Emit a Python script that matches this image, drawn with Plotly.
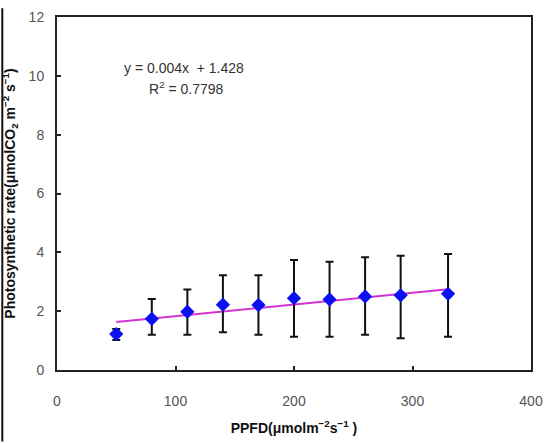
import plotly.graph_objects as go

# PPFD levels and mean photosynthetic rate with error bars
ppfd = [50, 80, 110, 140, 170, 200, 230, 260, 290, 330]
rate = [1.22, 1.74, 1.98, 2.22, 2.21, 2.44, 2.40, 2.50, 2.54, 2.59]
err_plus = [0.17, 0.67, 0.76, 1.00, 1.01, 1.30, 1.28, 1.33, 1.34, 1.35]
err_minus = [0.20, 0.54, 0.78, 0.94, 1.01, 1.31, 1.27, 1.30, 1.46, 1.46]

# Linear trend
slope = 0.004
intercept = 1.428
r_squared = 0.7798

x_ticks = [0, 100, 200, 300, 400]
y_ticks = [0, 2, 4, 6, 8, 10, 12]

W, H = 552, 443
ml, mr, mt, mb = 57, 14, 9, 73
pw = W - ml - mr
ph = H - mt - mb


def px_x(p):
    return (p - ml) / pw


def px_y(p):
    return 1 - (p - mt) / ph


trend_x = [ppfd[0], ppfd[-1]]
trend_y = [slope * v + intercept for v in trend_x]

fig = go.Figure()
fig.add_trace(go.Scatter(
    x=trend_x, y=trend_y, mode="lines",
    line=dict(color="#d433d4", width=2), hoverinfo="skip", showlegend=False,
))
fig.add_trace(go.Scatter(
    x=ppfd, y=rate, mode="markers",
    marker=dict(symbol="diamond", size=11, color="#0a10f0"),
    error_y=dict(type="data", symmetric=False, array=err_plus, arrayminus=err_minus,
                 color="#111111", thickness=2, width=4),
    showlegend=False,
))

font_family = "Arial, Liberation Sans, sans-serif"

fig.add_annotation(
    x=px_x(186), y=px_y(61), xref="paper", yref="paper", showarrow=False,
    xanchor="center", yanchor="middle",
    text=f"y = {slope}x  + {intercept}",
    font=dict(family=font_family, size=14, color="#333333"),
)
fig.add_annotation(
    x=px_x(188), y=px_y(82), xref="paper", yref="paper", showarrow=False,
    xanchor="center", yanchor="middle",
    text=f"R<sup>2</sup> = {r_squared}",
    font=dict(family=font_family, size=14, color="#333333"),
)

# outer frame line on the left side
fig.add_shape(type="line", xref="paper", yref="paper",
              x0=px_x(1.5), x1=px_x(1.5), y0=px_y(0), y1=px_y(H),
              line=dict(color="#111111", width=2))

fig.update_xaxes(
    range=[0, 400], tickvals=x_ticks, ticks="inside", ticklen=4, tickwidth=2,
    tickcolor="#222222", showline=True, linecolor="#222222", linewidth=2, mirror=True,
    showgrid=False, zeroline=False, ticklabelstandoff=17,
    tickfont=dict(family=font_family, size=14, color="#555555"),
    title=dict(text="<b>PPFD(μmolm<sup>−2</sup>s<sup>−1</sup> )</b>", standoff=15,
               font=dict(family=font_family, size=14, color="#111111")),
)
fig.update_yaxes(
    range=[0, 12], tickvals=y_ticks, ticks="inside", ticklen=4, tickwidth=2,
    tickcolor="#222222", showline=True, linecolor="#222222", linewidth=2, mirror=True,
    showgrid=False, zeroline=False, ticklabelstandoff=8,
    tickfont=dict(family=font_family, size=14, color="#555555"),
    title=dict(text="<b>Photosynthetic rate(μmolCO<sub>2</sub> m<sup>−2</sup> s<sup>−1</sup>)</b>",
               standoff=10, font=dict(family=font_family, size=14, color="#111111")),
)

fig.update_layout(
    width=W, height=H,
    margin=dict(l=ml, r=mr, t=mt, b=mb),
    paper_bgcolor="white", plot_bgcolor="white",
)

fig.write_html("out.html")
